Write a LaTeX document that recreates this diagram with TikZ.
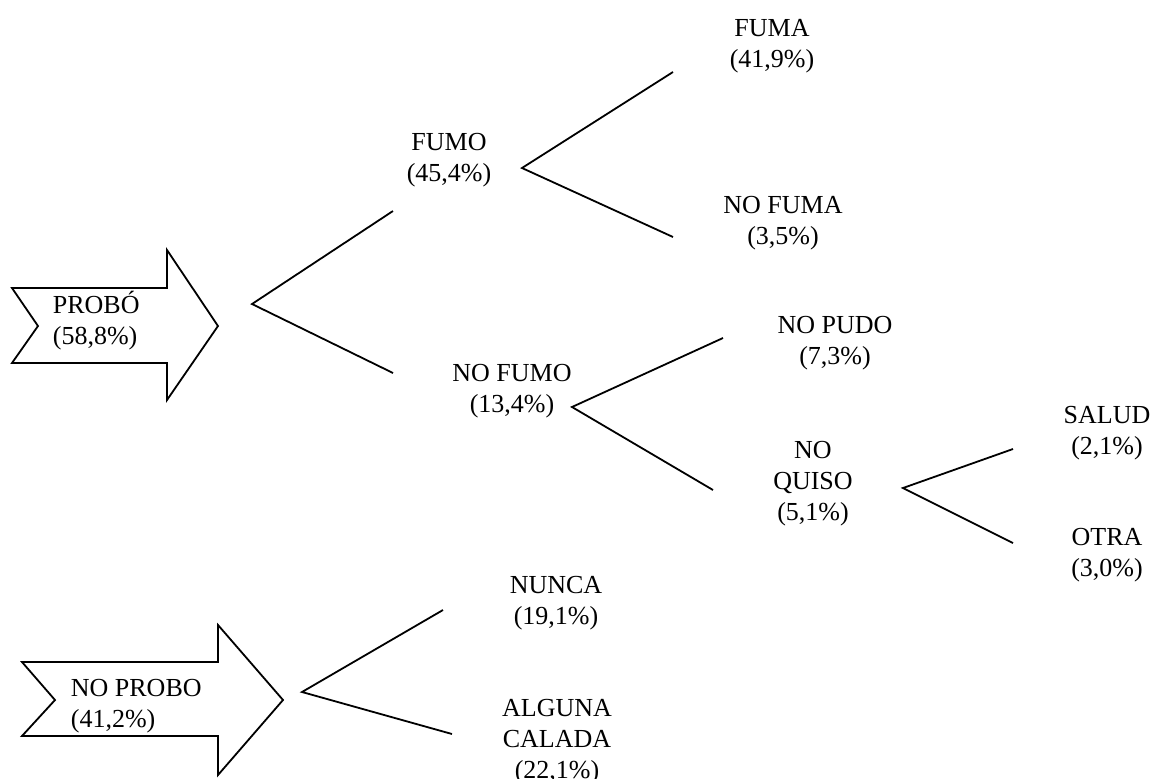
\documentclass[tikz,border=0pt]{standalone}
\usepackage{fontspec}
\setmainfont{Liberation Serif}

\begin{document}
\begin{tikzpicture}[x=0.5pt,y=-0.5pt,line width=0.9pt,
  lbl/.style={anchor=north,inner sep=0pt,align=center,font=\fontsize{13}{15.5}\selectfont},
  arrlbl/.style={lbl,anchor=north west,align=left}]
\useasboundingbox (0,0) rectangle (1153,778);
\draw[line join=miter] (12,288)--(167,288)--(167,250)--(218,326)--(167,400)--(167,363)--(12,363)--(38,326)--cycle;
\draw[line join=miter] (22,662)--(218,662)--(218,625)--(283,700)--(218,775)--(218,736)--(22,736)--(55,700)--cycle;
\node[arrlbl] (probo) at (52,290) {PROBÓ\\(58,8\%)};
\node[arrlbl] (noprobo) at (70,678) {NO PROBO\\(41,2\%)};
\node[lbl] (fumo) at (449,132) {FUMO\\(45,4\%)};
\node[lbl] (nofumo) at (512,363) {NO FUMO\\(13,4\%)};
\node[lbl] (fuma) at (772,18) {FUMA\\(41,9\%)};
\node[lbl] (nofuma) at (783,195) {NO FUMA\\(3,5\%)};
\node[lbl] (nopudo) at (835,315) {NO PUDO\\(7,3\%)};
\node[lbl] (noquiso) at (813,440) {NO\\QUISO\\(5,1\%)};
\node[lbl] (salud) at (1107,405) {SALUD\\(2,1\%)};
\node[lbl] (otra) at (1107,527) {OTRA\\(3,0\%)};
\node[lbl] (nunca) at (556,575) {NUNCA\\(19,1\%)};
\node[lbl] (alguna) at (557,698) {ALGUNA\\CALADA\\(22,1\%)};
\coordinate (vprobo) at (252,304);
\coordinate (tofumo) at (393,211);
\coordinate (tonofumo) at (393,373);
\coordinate (vfumo) at (522,168);
\coordinate (tofuma) at (673,72);
\coordinate (tonofuma) at (673,237);
\coordinate (vnofumo) at (572,407);
\coordinate (tonopudo) at (723,338);
\coordinate (tonoquiso) at (713,490);
\coordinate (vnoquiso) at (903,488);
\coordinate (tosalud) at (1013,449);
\coordinate (tootra) at (1013,543);
\coordinate (vnoprobo) at (302,692);
\coordinate (tonunca) at (443,610);
\coordinate (toalguna) at (452,734);
\draw (tofumo)--(vprobo)--(tonofumo);
\draw (tofuma)--(vfumo)--(tonofuma);
\draw (tonopudo)--(vnofumo)--(tonoquiso);
\draw (tosalud)--(vnoquiso)--(tootra);
\draw (tonunca)--(vnoprobo)--(toalguna);
\end{tikzpicture}
\end{document}
